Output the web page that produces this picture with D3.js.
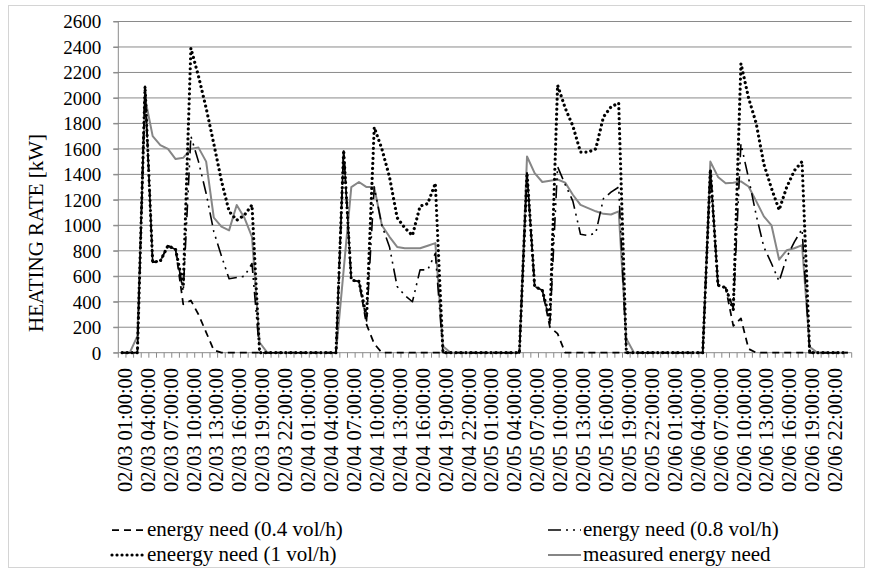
<!DOCTYPE html>
<html><head><meta charset="utf-8">
<script src="https://cdn.jsdelivr.net/npm/d3@7"></script>
<style>
body{margin:0;background:#fff}
svg{display:block}
</style>
</head><body>
<svg id="c" width="872" height="573"></svg>
<script>
const categories = [
"02/03 01:00:00","02/03 02:00:00","02/03 03:00:00","02/03 04:00:00","02/03 05:00:00","02/03 06:00:00","02/03 07:00:00","02/03 08:00:00",
"02/03 09:00:00","02/03 10:00:00","02/03 11:00:00","02/03 12:00:00","02/03 13:00:00","02/03 14:00:00","02/03 15:00:00","02/03 16:00:00",
"02/03 17:00:00","02/03 18:00:00","02/03 19:00:00","02/03 20:00:00","02/03 21:00:00","02/03 22:00:00","02/03 23:00:00","02/04 00:00:00",
"02/04 01:00:00","02/04 02:00:00","02/04 03:00:00","02/04 04:00:00","02/04 05:00:00","02/04 06:00:00","02/04 07:00:00","02/04 08:00:00",
"02/04 09:00:00","02/04 10:00:00","02/04 11:00:00","02/04 12:00:00","02/04 13:00:00","02/04 14:00:00","02/04 15:00:00","02/04 16:00:00",
"02/04 17:00:00","02/04 18:00:00","02/04 19:00:00","02/04 20:00:00","02/04 21:00:00","02/04 22:00:00","02/04 23:00:00","02/05 00:00:00",
"02/05 01:00:00","02/05 02:00:00","02/05 03:00:00","02/05 04:00:00","02/05 05:00:00","02/05 06:00:00","02/05 07:00:00","02/05 08:00:00",
"02/05 09:00:00","02/05 10:00:00","02/05 11:00:00","02/05 12:00:00","02/05 13:00:00","02/05 14:00:00","02/05 15:00:00","02/05 16:00:00",
"02/05 17:00:00","02/05 18:00:00","02/05 19:00:00","02/05 20:00:00","02/05 21:00:00","02/05 22:00:00","02/05 23:00:00","02/06 00:00:00",
"02/06 01:00:00","02/06 02:00:00","02/06 03:00:00","02/06 04:00:00","02/06 05:00:00","02/06 06:00:00","02/06 07:00:00","02/06 08:00:00",
"02/06 09:00:00","02/06 10:00:00","02/06 11:00:00","02/06 12:00:00","02/06 13:00:00","02/06 14:00:00","02/06 15:00:00","02/06 16:00:00",
"02/06 17:00:00","02/06 18:00:00","02/06 19:00:00","02/06 20:00:00","02/06 21:00:00","02/06 22:00:00","02/06 23:00:00","02/07 00:00:00"
];
const xTickLabels = [
"02/03 01:00:00","02/03 04:00:00","02/03 07:00:00","02/03 10:00:00","02/03 13:00:00","02/03 16:00:00","02/03 19:00:00","02/03 22:00:00",
"02/04 01:00:00","02/04 04:00:00","02/04 07:00:00","02/04 10:00:00","02/04 13:00:00","02/04 16:00:00","02/04 19:00:00","02/04 22:00:00",
"02/05 01:00:00","02/05 04:00:00","02/05 07:00:00","02/05 10:00:00","02/05 13:00:00","02/05 16:00:00","02/05 19:00:00","02/05 22:00:00",
"02/06 01:00:00","02/06 04:00:00","02/06 07:00:00","02/06 10:00:00","02/06 13:00:00","02/06 16:00:00","02/06 19:00:00","02/06 22:00:00"
];
const yTicks = [0,200,400,600,800,1000,1200,1400,1600,1800,2000,2200,2400,2600];

const need04 = [
0,0,0,2090,710,720,840,810,380,410,300,160,20,0,0,0,0,0,0,0,0,0,0,0,
0,0,0,0,0,1590,570,560,220,70,0,0,0,0,0,0,0,0,0,0,0,0,0,0,
0,0,0,0,0,1410,520,490,200,150,0,0,0,0,0,0,0,0,0,0,0,0,0,0,
0,0,0,0,0,1440,530,510,210,270,30,0,0,0,0,0,0,0,0,0,0,0,0,0
];
const need08 = [
0,0,0,2090,710,720,840,810,480,1700,1500,1250,950,760,580,590,600,700,0,0,0,0,0,0,
0,0,0,0,0,1590,570,560,250,1300,1000,830,520,450,400,650,650,780,0,0,0,0,0,0,
0,0,0,0,0,1410,520,490,230,1460,1320,1190,930,920,940,1210,1260,1300,0,0,0,0,0,0,
0,0,0,0,0,1440,530,510,350,1640,1370,1080,830,700,560,750,870,970,0,0,0,0,0,0
];
const need10 = [
0,0,0,2090,710,720,840,810,520,2390,2170,1920,1640,1350,1110,1040,1080,1160,0,0,0,0,0,0,
0,0,0,0,0,1590,570,560,280,1770,1600,1380,1060,980,920,1150,1170,1330,0,0,0,0,0,0,
0,0,0,0,0,1410,520,490,260,2100,1920,1780,1575,1575,1600,1850,1930,1960,0,0,0,0,0,0,
0,0,0,0,0,1440,530,510,340,2270,2000,1800,1480,1290,1120,1300,1430,1500,0,0,0,0,0,0
];
const measured = [
0,0,130,2000,1700,1630,1600,1520,1530,1600,1610,1500,1060,990,960,1160,1060,910,80,0,0,0,0,0,
0,0,0,0,0,650,1300,1340,1300,1300,1000,910,830,820,820,820,840,860,50,0,0,0,0,0,
0,0,0,0,0,1540,1410,1340,1350,1360,1335,1240,1160,1135,1110,1090,1085,1110,110,0,0,0,0,0,
0,0,0,0,0,1500,1380,1330,1335,1345,1305,1190,1070,1000,730,805,820,845,47,0,0,0,0,0
];
const seriesNames = ["energy need (0.4 vol/h)","energy need (0.8 vol/h)","eneergy need (1 vol/h)","measured energy need"];
const axisTitle = "HEATING RATE [kW]";

const FONT = '"Liberation Serif","Tinos","Times New Roman","Times","DejaVu Serif","Noto Serif",serif';
const svg = d3.select("#c");
const L = 118.3, R = 851.7, T = 21.5, B = 352.7;
const x = d3.scaleBand().domain(categories).range([L, R]).padding(0);
const y = d3.scaleLinear().domain([0, 2600]).range([B, T]);
const cx = c => x(c) + x.bandwidth() / 2;
const GRID = "#8a8a8a";

// fit a text selection's font size so that a reference string reaches a target length
function fitSize(sample, target, base) {
  const t = svg.append("text").style("font-family", FONT).style("font-size", base + "px").text(sample);
  const w = t.node().getComputedTextLength();
  t.remove();
  return w > 0 ? base * target / w : base;
}
const fsY = fitSize("2600", 38, 20);
const fsX = fitSize("02/03 01:00:00", 124, 20);
const fsTitle = fitSize(axisTitle, 198, 20);
const fsLeg = fitSize(seriesNames[0], 196, 20);

// chart border
svg.append("rect").attr("x", 8.5).attr("y", 5.5).attr("width", 856).attr("height", 562)
  .attr("fill", "none").attr("stroke", "#d4d4d4").attr("stroke-width", 1);

// gridlines
svg.append("g").selectAll("line").data(yTicks.filter(v => v > 0)).join("line")
  .attr("x1", L - 5).attr("x2", R).attr("y1", d => y(d)).attr("y2", d => y(d))
  .attr("stroke", GRID).attr("stroke-width", 1);

// y axis
const yAxis = d3.axisLeft(y).tickValues(yTicks).tickSize(5).tickPadding(12).tickFormat(d3.format("d"));
const gy = svg.append("g").attr("transform", `translate(${L},0)`).call(yAxis);
gy.select(".domain").attr("stroke", GRID).attr("d", `M0,${T}V${B}`);
gy.selectAll(".tick line").attr("stroke", GRID);
gy.selectAll(".tick text").attr("dy", "0.34em").attr("fill", "#000")
  .style("font-family", FONT).style("font-size", fsY + "px");

// x axis line and boundary tick marks
svg.append("line").attr("x1", L - 5).attr("x2", R).attr("y1", B).attr("y2", B).attr("stroke", GRID);
svg.append("g").selectAll("line").data(categories.concat([null])).join("line")
  .attr("x1", d => d === null ? R : x(d)).attr("x2", d => d === null ? R : x(d))
  .attr("y1", B).attr("y2", B + 5).attr("stroke", GRID);

// x labels
svg.append("g").selectAll("text").data(xTickLabels).join("text")
  .attr("transform", d => `translate(${cx(d) + 2.5},368) rotate(-90)`)
  .attr("text-anchor", "end").attr("dy", "0.35em")
  .style("font-family", FONT).style("font-size", fsX + "px")
  .text(d => d);

// y axis title
svg.append("text").attr("transform", "translate(42.5,233) rotate(-90)")
  .attr("text-anchor", "middle").style("font-family", FONT).style("font-size", fsTitle + "px").text(axisTitle);

// series
const line = d3.line().x((d, i) => cx(categories[i])).y(d => y(d));
const styles = [
  {data: need04, stroke: "#000", width: 1.75, dash: "7,5", cap: "butt"},
  {data: need08, stroke: "#000", width: 1.6, dash: "13,5,2,5,2,5", cap: "butt"},
  {data: need10, stroke: "#000", width: 3.2, dash: "0.01,5", cap: "round"},
  {data: measured, stroke: "#868686", width: 2, dash: null, cap: "butt"}
];
const drawOrder = [3, 0, 1, 2];
drawOrder.forEach(k => {
  const s = styles[k];
  svg.append("path").datum(s.data).attr("d", line).attr("fill", "none")
    .attr("stroke", s.stroke).attr("stroke-width", s.width)
    .attr("stroke-dasharray", s.dash).attr("stroke-linecap", s.cap)
    .attr("stroke-linejoin", "round");
});

// legend
const legendPos = [
  {x: 112, y: 536}, {x: 548, y: 536}, {x: 112, y: 561}, {x: 548, y: 561}
];
seriesNames.forEach((name, k) => {
  const p = legendPos[k], s = styles[k];
  svg.append("line").attr("x1", p.x).attr("x2", p.x + 33).attr("y1", p.y - 6).attr("y2", p.y - 6)
    .attr("stroke", s.stroke).attr("stroke-width", s.width)
    .attr("stroke-dasharray", s.dash).attr("stroke-linecap", s.cap);
  svg.append("text").attr("x", p.x + 35).attr("y", p.y)
    .style("font-family", FONT).style("font-size", fsLeg + "px").text(name);
});
</script>
</body></html>
